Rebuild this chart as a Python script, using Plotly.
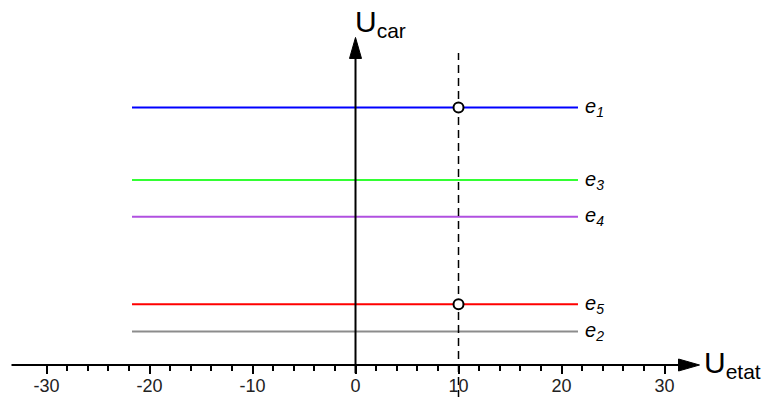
import plotly.graph_objects as go

# ---- data ----
level_subscripts = ["1", "3", "4", "5", "2"]
level_values = [25.0, 17.95, 14.4, 5.9, 3.25]
level_colors = ["#0000ff", "#33ff33", "#b050e0", "#ff0000", "#8c8c8c"]
level_x_start = -21.7
level_x_end = 21.6

marked_x = 10
marked_levels = [25.0, 5.9]
dash_y = [-3.2, 30.3]

tick_values = [-30, -20, -10, 0, 10, 20, 30]
tick_labels = ["-30", "-20", "-10", "0", "10", "20", "30"]
minor_tick_values = [-28, -26, -24, -22, -18, -16, -14, -12, -8, -6, -4, -2,
                     2, 4, 6, 8, 12, 14, 16, 18, 22, 24, 26, 28]

x_axis_extent = [-33.4, 33.4]
y_axis_top = 31.8
x_range = [-33.74, 40.34]
y_range = [-3.107, 34.66]

fig = go.Figure()

# horizontal levels
for sub, val, col in zip(level_subscripts, level_values, level_colors):
    fig.add_trace(go.Scatter(x=[level_x_start, level_x_end], y=[val, val],
                             mode="lines", line=dict(color=col, width=2),
                             hoverinfo="skip", showlegend=False))
    fig.add_annotation(x=level_x_end, y=val, xref="x", yref="y",
                       text="<i>e<sub>%s</sub></i>" % sub, showarrow=False,
                       xanchor="left", yanchor="middle", xshift=5, yshift=0,
                       font=dict(family="Liberation Sans", size=20, color="#000"))

# dashed vertical
fig.add_trace(go.Scatter(x=[marked_x, marked_x], y=dash_y, mode="lines",
                         line=dict(color="black", width=1.5, dash="8px,5px"),
                         hoverinfo="skip", showlegend=False))

# axes lines
fig.add_trace(go.Scatter(x=[x_axis_extent[0], x_axis_extent[1] - 1.5], y=[0, 0],
                         mode="lines", line=dict(color="black", width=2),
                         hoverinfo="skip", showlegend=False))
fig.add_trace(go.Scatter(x=[0, 0], y=[-0.8, y_axis_top - 1.5], mode="lines",
                         line=dict(color="black", width=2),
                         hoverinfo="skip", showlegend=False))

# circles
fig.add_trace(go.Scatter(x=[marked_x] * len(marked_levels), y=marked_levels,
                         mode="markers",
                         marker=dict(symbol="circle", size=10, color="white",
                                     line=dict(color="black", width=2)),
                         hoverinfo="skip", showlegend=False))

# arrowheads (pixel-sized paths anchored at axis ends)
fig.add_shape(type="path", xref="x", yref="y", xsizemode="pixel", ysizemode="pixel",
              xanchor=x_axis_extent[1], yanchor=0,
              path="M0,0 L-21,6 L-21,-6 Z", fillcolor="black",
              line=dict(color="black", width=1))
fig.add_shape(type="path", xref="x", yref="y", xsizemode="pixel", ysizemode="pixel",
              xanchor=0, yanchor=y_axis_top,
              path="M0,0 L-6,-21 L6,-21 Z", fillcolor="black",
              line=dict(color="black", width=1))

# axis titles
fig.add_annotation(x=x_axis_extent[1], y=0, xref="x", yref="y",
                   text="U<sub>etat</sub>", showarrow=False,
                   xanchor="left", yanchor="middle", xshift=2, yshift=1,
                   font=dict(family="Liberation Sans", size=30, color="#000"))
fig.add_annotation(x=0, y=y_axis_top, xref="x", yref="y",
                   text="U<sub>car</sub>", showarrow=False,
                   xanchor="left", yanchor="bottom", xshift=-3, yshift=-7,
                   font=dict(family="Liberation Sans", size=30, color="#000"))

pos0 = (0 - y_range[0]) / (y_range[1] - y_range[0])

fig.update_layout(
    width=763, height=389, margin=dict(l=0, r=0, t=0, b=0),
    paper_bgcolor="white", plot_bgcolor="white",
    xaxis=dict(range=x_range, anchor="free", position=pos0,
               showgrid=False, zeroline=False, showline=False,
               tickmode="array", tickvals=tick_values, ticktext=tick_labels,
               ticks="outside", ticklen=8, tickwidth=2, tickcolor="black",
               ticklabelstandoff=-4,
               tickfont=dict(family="Liberation Sans", size=18, color="#222"),
               minor=dict(tickmode="array", tickvals=minor_tick_values,
                          ticks="outside", ticklen=5, tickwidth=2, tickcolor="black",
                          showgrid=False)),
    yaxis=dict(range=y_range, visible=False, showgrid=False, zeroline=False),
)

fig.write_html("out.html")
